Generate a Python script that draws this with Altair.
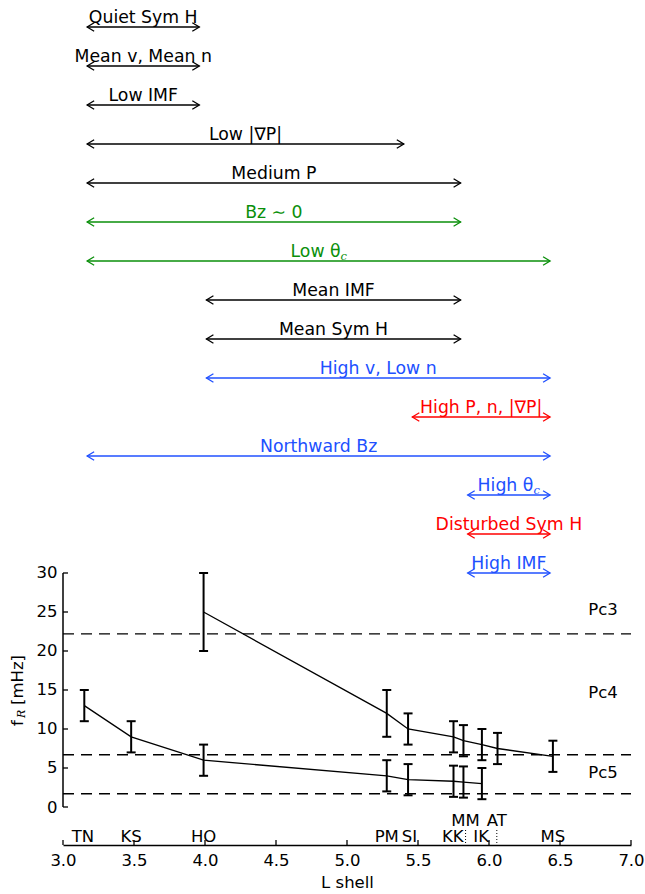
import altair as alt
import pandas as pd

FONT = "DejaVu Sans"

# ---------------- data ----------------
stations = ["TN", "KS", "HO", "PM", "SI", "KK", "MM", "IK", "AT", "MS"]
station_L = [3.14, 3.48, 3.99, 5.28, 5.44, 5.745, 5.835, 5.945, 6.055, 6.45]
station_raised = [0, 0, 0, 0, 0, 0, 1, 0, 1, 0]
dotted_L = [5.835, 6.055]

upper_L = [3.99, 5.28, 5.43, 5.75, 5.82, 5.95, 6.06, 6.45]
upper_f = [25, 12, 10, 9, 8.5, 8, 7.5, 6.5]
upper_err = [5, 3, 2, 2, 2, 2, 2, 2]

lower_L = [3.15, 3.48, 3.99, 5.28, 5.43, 5.75, 5.82, 5.95]
lower_f = [13, 9, 6, 4, 3.5, 3.3, 3.2, 3.0]
lower_err = [2, 2, 2, 2, 2, 2, 2, 2]

band_limits = [22.2, 6.7, 1.7]
band_names = ["Pc3", "Pc4", "Pc5"]
band_label_y = [25.3, 14.6, 4.3]

arrow_labels = ["Quiet Sym H", "Mean v, Mean n", "Low IMF", "Low |∇P|", "Medium P",
                "Bz ∼ 0", "Low θ", "Mean IMF", "Mean Sym H", "High v, Low n",
                "High P, n, |∇P|", "Northward Bz", "High θ", "Disturbed Sym H", "High IMF"]
arrow_start = [3.17, 3.17, 3.17, 3.17, 3.17, 3.17, 3.17, 4.01, 4.01, 4.01,
               5.46, 3.17, 5.85, 5.85, 5.85]
arrow_end = [3.96, 3.96, 3.96, 5.40, 5.80, 5.80, 6.43, 5.80, 5.80, 6.43,
             6.43, 6.43, 6.43, 6.43, 6.43]
arrow_row = [100, 95, 90, 85, 80, 75, 70, 65, 60, 55, 50, 45, 40, 35, 30]
BLACK, GREEN, BLUE, RED = "#000000", "#0a8f0a", "#2050ff", "#ff0000"
arrow_color = [BLACK, BLACK, BLACK, BLACK, BLACK, GREEN, GREEN, BLACK, BLACK, BLUE,
               RED, BLUE, BLUE, RED, BLUE]

x_ticks = [3.0, 3.5, 4.0, 4.5, 5.0, 5.5, 6.0, 6.5, 7.0]
y_ticks = [0, 5, 10, 15, 20, 25, 30]

# ---------------- frames ----------------
W, H = 568, 796
YMAX = 102.05
FS = 16.5     # axis / station / band label size
AFS = 17.3    # arrow label size

arrows = pd.DataFrame({"label": arrow_labels, "start": arrow_start, "end": arrow_end,
                       "row": arrow_row, "color": arrow_color})
arrows["mid"] = (arrows["start"] + arrows["end"]) / 2

up = pd.DataFrame({"L": upper_L, "f": upper_f, "err": upper_err, "series": "upper"})
lo = pd.DataFrame({"L": lower_L, "f": lower_f, "err": lower_err, "series": "lower"})
pts = pd.concat([up, lo], ignore_index=True)
pts["lo"] = pts["f"] - pts["err"]
pts["hi"] = pts["f"] + pts["err"]

st = pd.DataFrame({"name": stations, "L": station_L, "raised": station_raised})
dots = pd.DataFrame({"L": dotted_L})
bands = pd.DataFrame({"y": band_limits, "name": band_names, "ly": band_label_y})
xt = pd.DataFrame({"v": x_ticks})
yt = pd.DataFrame({"v": y_ticks})
ydom = pd.DataFrame({"a": [0], "b": [30]})

xs = alt.Scale(domain=[3, 7], nice=False, zero=False)
ys = alt.Scale(domain=[0, YMAX], nice=False, zero=False)

x_axis = alt.Axis(values=x_ticks, format=".1f", offset=38, ticks=False, tickSize=0,
                  labelPadding=7, labelFlush=False, labelOverlap=False,
                  domainColor="black", domainWidth=1.5, labelFontSize=FS,
                  labelColor="black", labelFont=FONT, title="L shell",
                  titleFont=FONT, titleFontSize=FS, titleFontWeight="normal",
                  titleColor="black", titlePadding=6, grid=False)
y_axis = alt.Axis(values=y_ticks, domain=False, ticks=False, tickSize=0,
                  labelPadding=6, labelFontSize=FS, labelColor="black",
                  labelFont=FONT, title="", grid=False, labelOverlap=False)


def X(f):
    return alt.X(f, type="quantitative", scale=xs, axis=x_axis)


def Y(f):
    return alt.Y(f, type="quantitative", scale=ys, axis=y_axis)


LEFT_HEAD = "M 1 -0.6 L 0 0 L 1 0.6"
RIGHT_HEAD = "M -1 -0.6 L 0 0 L -1 0.6"

layers = []

# dashed Pc band limits
layers.append(alt.Chart(bands).mark_rule(color="black", strokeWidth=1.3, strokeDash=[11, 7]).encode(
    x=alt.value(0), x2=alt.value(W), y=Y("y")))

# manual inward ticks and y spine (0..30 only)
layers.append(alt.Chart(xt).mark_rule(color="black", strokeWidth=1.3).encode(
    x=X("v"), y=alt.value(H + 38 - 5), y2=alt.value(H + 38)))
layers.append(alt.Chart(yt).mark_rule(color="black", strokeWidth=1.3).encode(
    y=Y("v"), x=alt.value(0), x2=alt.value(5)))
layers.append(alt.Chart(ydom).mark_rule(color="black", strokeWidth=1.5).encode(
    x=alt.value(0), y=Y("a"), y2=alt.Y2("b")))

# band labels
layers.append(alt.Chart(bands).mark_text(font=FONT, fontSize=FS, color="black",
                                         align="center", baseline="middle").encode(
    x=alt.value(540), y=Y("ly"), text="name:N"))

# data lines and error bars
layers.append(alt.Chart(pts).mark_line(color="black", strokeWidth=1.3).encode(
    x=X("L"), y=Y("f"), detail="series:N"))
layers.append(alt.Chart(pts).mark_rule(color="black", strokeWidth=2).encode(
    x=X("L"), y=Y("lo"), y2=alt.Y2("hi")))
layers.append(alt.Chart(pts).mark_tick(color="black", orient="horizontal", size=9,
                                       thickness=2, opacity=1).encode(x=X("L"), y=Y("lo")))
layers.append(alt.Chart(pts).mark_tick(color="black", orient="horizontal", size=9,
                                       thickness=2, opacity=1).encode(x=X("L"), y=Y("hi")))

# station labels
layers.append(alt.Chart(st).transform_filter(alt.datum.raised == 0).mark_text(
    font=FONT, fontSize=FS, color="black", align="center", baseline="alphabetic").encode(
    x=X("L"), y=alt.value(H + 38 - 3), text="name:N"))
layers.append(alt.Chart(st).transform_filter(alt.datum.raised == 1).mark_text(
    font=FONT, fontSize=FS, color="black", align="center", baseline="alphabetic").encode(
    x=X("L"), y=alt.value(H + 38 - 19.5), text="name:N"))
layers.append(alt.Chart(dots).mark_rule(color="black", strokeWidth=1, strokeDash=[1, 2]).encode(
    x=X("L"), y=alt.value(H + 38 - 15), y2=alt.value(H + 38)))

# arrows
cscale = alt.Color("color:N", scale=None)
layers.append(alt.Chart(arrows).mark_rule(strokeWidth=1.3).encode(
    x=X("start"), x2=alt.X2("end"), y=Y("row"), color=cscale))
layers.append(alt.Chart(arrows).mark_point(shape=LEFT_HEAD, size=196, filled=False,
                                           strokeWidth=1.3, opacity=1).encode(
    x=X("start"), y=Y("row"), color=cscale))
layers.append(alt.Chart(arrows).mark_point(shape=RIGHT_HEAD, size=196, filled=False,
                                           strokeWidth=1.3, opacity=1).encode(
    x=X("end"), y=Y("row"), color=cscale))

plain = ~(alt.FieldOneOfPredicate(field="label", oneOf=["Low θ", "High θ"]))
layers.append(alt.Chart(arrows).transform_filter(plain).mark_text(
    font=FONT, fontSize=AFS, align="center", baseline="alphabetic", dy=-4).encode(
    x=X("mid"), y=Y("row"), text="label:N", color=cscale))

for lab, half in [("Low θ", 25.0), ("High θ", 27.5)]:
    sel = alt.datum.label == lab
    layers.append(alt.Chart(arrows).transform_filter(sel).mark_text(
        font=FONT, fontSize=AFS, align="right", baseline="alphabetic", dy=-4,
        dx=half - 3).encode(x=X("mid"), y=Y("row"), text="label:N", color=cscale))
    layers.append(alt.Chart(arrows).transform_filter(sel).mark_text(
        font="DejaVu Serif", fontSize=11.5, fontStyle="italic", align="left",
        baseline="alphabetic", dy=-1, dx=half - 3).encode(
        x=X("mid"), y=Y("row"), text=alt.value("c"), color=cscale))

# y-axis title: f_R [mHz]
ttl = pd.DataFrame({"k": [0]})
TY = 726 - 11
layers.append(alt.Chart(ttl).mark_text(font=FONT, fontSize=FS, color="black", angle=270,
                                       align="left", baseline="middle").encode(
    x=alt.value(-45), y=alt.value(TY), text=alt.value("f")))
layers.append(alt.Chart(ttl).mark_text(font="DejaVu Serif", fontSize=11, fontStyle="italic",
                                       color="black", angle=270, align="left",
                                       baseline="middle", dx=8, dy=4).encode(
    x=alt.value(-45), y=alt.value(TY), text=alt.value("R")))
layers.append(alt.Chart(ttl).mark_text(font=FONT, fontSize=FS, color="black", angle=270,
                                       align="left", baseline="middle", dx=21).encode(
    x=alt.value(-45), y=alt.value(TY), text=alt.value("[mHz]")))

chart = alt.layer(*layers).properties(
    width=W, height=H,
    autosize=alt.AutoSizeParams(type="none"),
    padding={"left": 63, "top": 11, "right": 14, "bottom": 87},
).configure(background="white").configure_view(stroke=None, strokeWidth=0)

chart.save("out.html", embed_options={"renderer": "svg", "actions": False})
